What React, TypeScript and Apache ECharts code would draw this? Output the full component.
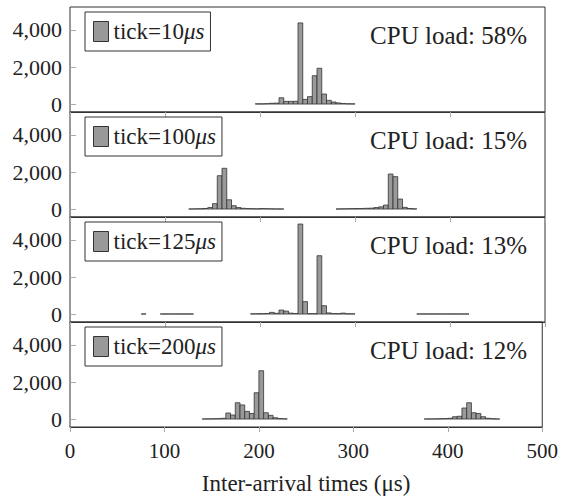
import React, { useEffect, useRef } from "react";
import * as echarts from "echarts";

// Histogram bin starts (µs) and counts, one pair of arrays per panel
const p1Bins = [195, 200, 205, 210, 215, 220, 225, 230, 235, 240, 245, 250, 255, 260, 265, 270, 275, 280, 285, 290, 295];
const p1Counts = [10, 10, 20, 40, 50, 340, 145, 145, 150, 4380, 250, 400, 1530, 1930, 540, 200, 110, 60, 30, 15, 10];

const p2Bins = [125, 130, 135, 140, 145, 150, 155, 160, 165, 170, 175, 180, 185, 190, 195, 200, 205, 210, 215, 220,
  280, 285, 290, 295, 300, 305, 310, 315, 320, 325, 330, 335, 340, 345, 350, 355, 360];
const p2Counts = [5, 10, 15, 30, 80, 290, 1800, 2200, 500, 180, 80, 40, 25, 15, 10, 25, 15, 10, 5, 5,
  5, 10, 15, 20, 25, 30, 40, 50, 80, 120, 215, 1890, 1750, 540, 90, 30, 10];

const p3Bins = [75, 95, 100, 105, 110, 115, 120, 125,
  190, 195, 200, 205, 210, 215, 220, 225, 230, 235, 240, 245, 250, 255, 260, 265, 270, 275, 280, 285, 290, 295,
  365, 370, 375, 380, 385, 390, 395, 400, 405, 410, 415];
const p3Counts = [5, 5, 5, 5, 5, 5, 5, 5,
  10, 15, 20, 30, 90, 40, 215, 160, 50, 30, 4860, 670, 20, 20, 3150, 450, 60, 25, 20, 50, 15, 10,
  5, 5, 5, 5, 5, 5, 5, 5, 5, 5, 5];

const p4Bins = [140, 145, 150, 155, 160, 165, 170, 175, 180, 185, 190, 195, 200, 205, 210, 215, 220, 225,
  375, 380, 385, 390, 395, 400, 405, 410, 415, 420, 425, 430, 435, 440, 445, 450];
const p4Counts = [5, 10, 15, 20, 40, 325, 215, 880, 760, 415, 300, 1420, 2610, 340, 200, 70, 25, 10,
  5, 5, 10, 15, 25, 40, 125, 150, 595, 880, 340, 300, 125, 40, 15, 5];

const BIN_WIDTH = 5;
const tickLabels = ["10", "100", "125", "200"];
const cpuLoads = ["58%", "15%", "13%", "12%"];
const yTicks = [0, 2000, 4000];
const xTitle = "Inter-arrival times (μs)";

const panels = [
  { bins: p1Bins, counts: p1Counts },
  { bins: p2Bins, counts: p2Counts },
  { bins: p3Bins, counts: p3Counts },
  { bins: p4Bins, counts: p4Counts },
];

const FONT = "Liberation Serif";
const TOPS = [7, 112, 217, 322];
const H = 105;

export default function App() {
  const ref = useRef<HTMLDivElement>(null);
  useEffect(() => {
    if (!ref.current) return;
    const chart = echarts.init(ref.current, undefined, { renderer: "svg" });
    const grids = TOPS.map((t) => ({
      left: 70, width: 475, top: t, height: H, show: true,
      borderColor: "#333", borderWidth: 1, backgroundColor: "transparent",
    }));
    const xAxes = TOPS.map((_, i) => ({
      type: "value", gridIndex: i, min: 0, max: 500, interval: 100,
      axisLine: { show: true, onZero: false, lineStyle: { color: "#333", width: 1 } },
      axisTick: { show: true, inside: false, length: 5, lineStyle: { color: "#aaa" } },
      splitLine: { show: false },
      axisLabel: { show: i === 3, fontFamily: FONT, fontSize: 21, color: "#222", margin: 13 },
      name: i === 3 ? xTitle : "",
      nameLocation: "middle", nameGap: 45,
      nameTextStyle: { fontFamily: FONT, fontSize: 23, color: "#222" },
    }));
    const yAxes = TOPS.map((_, i) => ({
      type: "value", gridIndex: i, min: -430, max: 5240,
      axisLine: { show: false },
      splitLine: { show: false },
      axisTick: { show: true, inside: true, length: 6, customValues: yTicks, lineStyle: { color: "#aaa" } },
      axisLabel: {
        show: true, customValues: yTicks, fontFamily: FONT, fontSize: 22, color: "#222", margin: 8,
        formatter: (v: number) => v.toLocaleString("en-US"),
      },
    }));
    const series = panels.map((p, i) => ({
      type: "custom",
      name: "tick" + i,
      xAxisIndex: i, yAxisIndex: i,
      clip: true,
      itemStyle: { color: "#999999" },
      data: p.bins.map((b, k) => [b, p.counts[k]]),
      renderItem: (params: any, api: any) => {
        const x0 = api.value(0);
        const y = api.value(1);
        const a = api.coord([x0, 0]);
        const b = api.coord([x0 + BIN_WIDTH, y]);
        return {
          type: "rect",
          shape: { x: a[0], y: b[1], width: b[0] - a[0], height: a[1] - b[1] },
          style: { fill: "#999999", stroke: "#333", lineWidth: 0.8 },
        };
      },
    }));
    const legends = TOPS.map((t, i) => ({
      data: ["tick" + i],
      left: 85, top: t + 5,
      orient: "horizontal",
      padding: [8, 6, 8, 8],
      itemWidth: 15, itemHeight: 20, itemGap: 0, itemTextGap: 6,
      icon: "rect",
      borderColor: "#333", borderWidth: 1, backgroundColor: "#fff",
      itemStyle: { color: "#999999", borderColor: "#333", borderWidth: 1 },
      formatter: () => `{a|tick=${tickLabels[i]}}{b|μs}`,
      textStyle: {
        fontFamily: FONT, fontSize: 23, color: "#222",
        rich: {
          a: { fontFamily: FONT, fontSize: 23, color: "#222" },
          b: { fontFamily: FONT, fontSize: 23, fontStyle: "italic", color: "#222" },
        },
      },
      selectedMode: false,
    }));
    const graphics = TOPS.map((t, i) => ({
      type: "text", right: 34, top: t + 16,
      style: { text: `CPU load: ${cpuLoads[i]}`, font: `25px "${FONT}"`, fill: "#222" },
    }));
    chart.setOption({
      animation: false,
      backgroundColor: "#fff",
      grid: grids,
      xAxis: xAxes,
      yAxis: yAxes,
      series,
      legend: legends,
      graphic: graphics,
    });
    return () => chart.dispose();
  }, []);
  return <div ref={ref} style={{ position: "absolute", left: 0, top: 0, width: 561, height: 497 }} />;
}
